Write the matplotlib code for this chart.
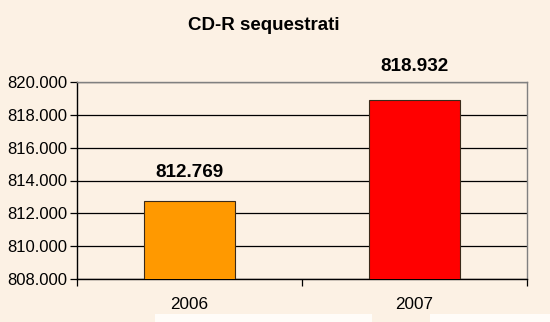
import matplotlib
matplotlib.use("Agg")
import matplotlib.pyplot as plt
from matplotlib.ticker import FuncFormatter, FixedLocator
from matplotlib.patches import Rectangle

plt.rcParams['font.family'] = ['Liberation Sans', 'DejaVu Sans']

title = "CD-R sequestrati"
years = ["2006", "2007"]
values = [812769, 818932]
value_labels = ["812.769", "818.932"]
bar_colors = ["#FF9900", "#FF0000"]
yticks = [808000, 810000, 812000, 814000, 816000, 818000, 820000]

bg = "#FCF1E4"
fig = plt.figure(figsize=(5.5, 3.22), dpi=100, facecolor=bg)
ax = fig.add_axes([77/550, 1-279/322, (527-77)/550, (279-82)/322], facecolor=bg)

x = list(range(len(years)))
ax.bar(x, values, width=0.405, color=bar_colors, edgecolor="#3a2a1a", linewidth=0.8, zorder=3)
ax.set_xlim(-0.5, len(years)-0.5)
ax.set_ylim(yticks[0], yticks[-1])
ax.set_yticks(yticks)
ax.yaxis.set_major_formatter(FuncFormatter(lambda v, p: f"{v/1000:.3f}"))
ax.grid(axis='y', color='black', linewidth=0.9, zorder=1)
ax.set_axisbelow(True)

ax.set_xticks(x)
ax.set_xticklabels(years, fontsize=12.3)
ax.xaxis.set_minor_locator(FixedLocator([-0.5, 0.5, 1.5]))
ax.tick_params(axis='x', which='major', length=0, pad=13)
ax.tick_params(axis='x', which='minor', length=5, width=0.9, color='black', direction='out')
ax.tick_params(axis='y', length=5, width=0.9, color='black', labelsize=12, pad=2)

for s in ['left', 'bottom']:
    ax.spines[s].set_color('black')
    ax.spines[s].set_linewidth(1.0)
for s in ['top', 'right']:
    ax.spines[s].set_color('#808080')
    ax.spines[s].set_linewidth(1.0)

offsets = [14.5, 18]
for xi, v, lab, off in zip(x, values, value_labels, offsets):
    ax.annotate(lab, (xi, v), xytext=(0, off), textcoords='offset points',
                ha='center', va='bottom', fontsize=13.6, fontweight='bold',
                annotation_clip=False, zorder=5)

fig.text(264/550, 1-26/322, title, ha='center', va='center',
         fontsize=13.5, fontweight='bold')

# faint white boxes at the bottom edge
fig.patches.append(Rectangle((155/550, 0), (372-155)/550, 8/322, transform=fig.transFigure,
                             facecolor='#FFFCF8', edgecolor='none'))
fig.patches.append(Rectangle((430/550, 0), (550-430)/550, 8/322, transform=fig.transFigure,
                             facecolor='#FFFCF8', edgecolor='none'))

fig.savefig("out.png", dpi=100, facecolor=bg)
